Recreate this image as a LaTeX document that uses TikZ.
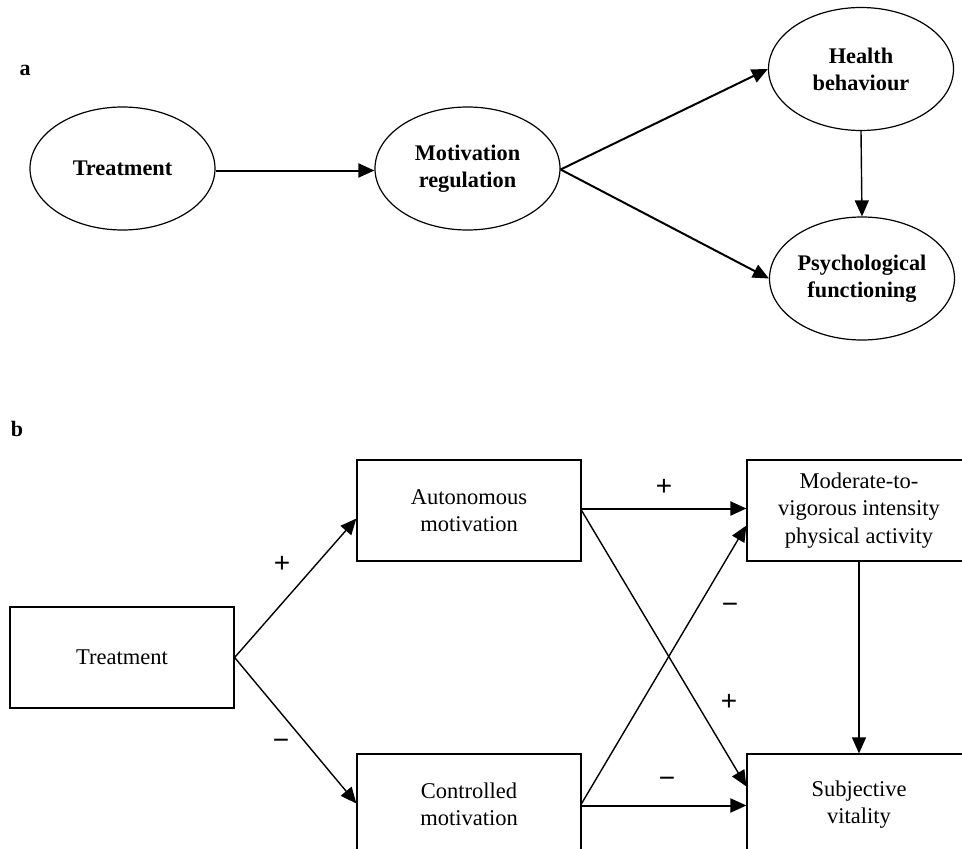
\documentclass[tikz,border=0pt]{standalone}
\usepackage{fontspec}
\setmainfont{Liberation Serif}
\newfontfamily\signfont{Liberation Sans}
\usetikzlibrary{shapes.geometric,arrows.meta,calc}
\tikzset{
  ell/.style={draw, ellipse, line width=1.2bp, minimum width=185bp, minimum height=123bp, inner sep=0pt, align=center, font=\fontsize{22.3bp}{27bp}\selectfont\bfseries},
  boxn/.style={draw, rectangle, line width=1.2bp, minimum width=224bp, minimum height=101bp, inner sep=0pt, align=center, font=\fontsize{22.5bp}{27.5bp}\selectfont},
  arra/.style={line width=2bp, -{Triangle[length=16bp,width=14bp]}},
  arrb/.style={line width=1.4bp, -{Triangle[length=16bp,width=14bp]}},
  arrbh/.style={line width=2bp, -{Triangle[length=16bp,width=14bp]}},
  sign/.style={font=\signfont\fontsize{28bp}{28bp}\selectfont, inner sep=0pt},
  panel/.style={font=\fontsize{22bp}{22bp}\selectfont\bfseries, inner sep=0pt, anchor=base}
}
\begin{document}
\begin{tikzpicture}[x=1bp, y=-1bp]
\path[use as bounding box] (0,0) rectangle (962,849);
\clip (0,0) rectangle (962,849);
\fill[white] (0,0) rectangle (962,849);

% panel a
\node[panel] (la) at (25,75) {a};
\node[ell] (ta) at (122.5,168.5) {Treatment};
\node[ell] (ma) at (467.5,168.5) {Motivation\\regulation};
\node[ell] (ha) at (861,69) {Health\\behaviour};
\node[ell] (pa) at (862,278.5) {Psychological\\functioning};
\draw[arra] ($(ta.east)+(0,2)$) -- ($(ma.west)+(0,2)$);
\draw[arra] ($(ma.east)+(0,1)$) -- (ha.west);
\draw[arra] ($(ma.east)+(0,1)$) -- (pa.west);
\draw[arrb] (ha.south) -- (pa.north);

% panel b
\node[panel] (lb) at (17,436) {b};
\node[boxn] (tb) at (122,657.5) {Treatment};
\node[boxn] (au) at (469,510.5) {Autonomous\\motivation};
\node[boxn] (co) at (469,804.5) {Controlled\\motivation};
\node[boxn] (mv) at (859,510.5) {Moderate-to-\\vigorous intensity\\physical activity};
\node[boxn] (sv) at (859,804.5) {Subjective\\vitality};
\draw[arrb] (tb.east) -- ($(au.west)+(0,8)$);
\draw[arrb] (tb.east) -- ($(co.west)+(0,-1)$);
\draw[arrbh] ($(au.east)+(0,-2)$) -- ($(mv.west)+(0,-2)$);
\draw[arrb] (au.east) -- ($(sv.west)+(0,-18)$);
\draw[arrb] ($(co.east)+(0,-1)$) -- ($(mv.west)+(0,15)$);
\draw[arrbh] ($(co.east)+(0,1)$) -- ($(sv.west)+(0,1)$);
\draw[arrb] (mv.south) -- (sv.north);

\node[sign] (s1) at (282,564) {+};
\node[sign] (s2) at (281,744) {−};
\node[sign] (s3) at (664,487) {+};
\node[sign] (s4) at (730,608) {−};
\node[sign] (s5) at (729,702) {+};
\node[sign] (s6) at (667,782) {−};
\end{tikzpicture}
\end{document}
